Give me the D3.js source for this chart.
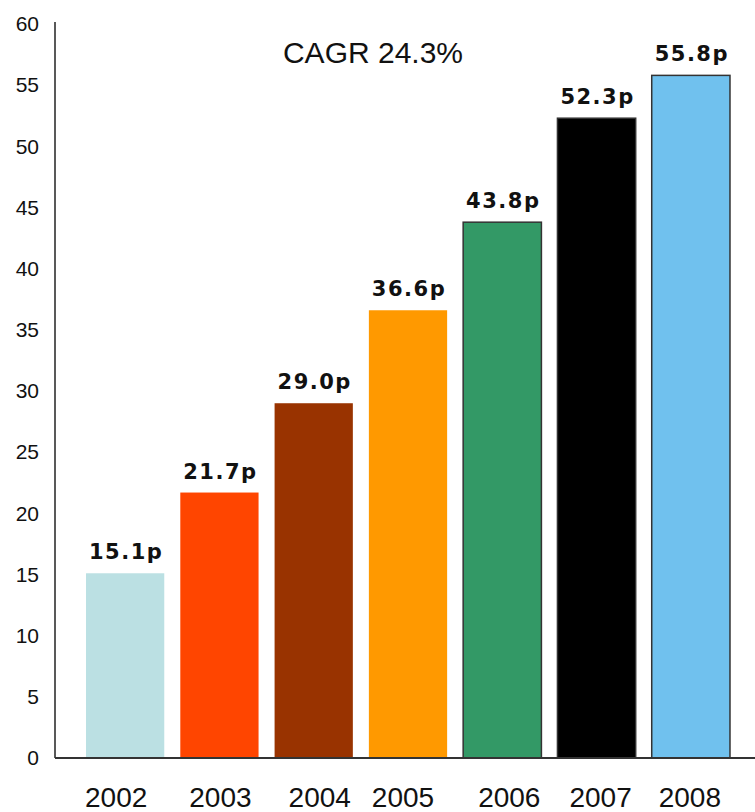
<!DOCTYPE html>
<html>
<head>
<meta charset="utf-8">
<script src="https://cdn.jsdelivr.net/npm/d3@7"></script>
<style>
  html, body { margin: 0; padding: 0; background: #fff; }
  svg { display: block; }
</style>
</head>
<body>
<svg id="chart" width="755" height="812"></svg>
<script>
// Annual values (pence) per year
const years = ["2002", "2003", "2004", "2005", "2006", "2007", "2008"];
const values = [15.1, 21.7, 29.0, 36.6, 43.8, 52.3, 55.8];
const valueLabels = ["15.1p", "21.7p", "29.0p", "36.6p", "43.8p", "52.3p", "55.8p"];
const barColors = ["#BBE0E3", "#FF4500", "#993300", "#FF9900", "#339966", "#000000", "#70C1EE"];
const outlined = [false, false, false, false, true, true, true];
const yTicks = [0, 5, 10, 15, 20, 25, 30, 35, 40, 45, 50, 55, 60];
const title = "CAGR 24.3%";

const svg = d3.select("#chart");

const x = d3.scaleBand()
  .domain(years)
  .range([78, 738])
  .paddingInner(0.17)
  .paddingOuter(0.085);

const y = d3.scaleLinear()
  .domain([0, 60])
  .range([758, 24]);

// Bars
svg.append("g")
  .selectAll("rect")
  .data(years)
  .join("rect")
  .attr("x", d => x(d))
  .attr("y", (d, i) => y(values[i]))
  .attr("width", x.bandwidth())
  .attr("height", (d, i) => y(0) - y(values[i]))
  .attr("fill", (d, i) => barColors[i])
  .attr("stroke", (d, i) => outlined[i] ? "#333" : "none")
  .attr("stroke-width", 1.5);

// Value labels above bars
svg.append("g")
  .selectAll("text")
  .data(years)
  .join("text")
  .attr("x", d => x(d) + x.bandwidth() / 2 + 1)
  .attr("y", (d, i) => y(values[i]) - 14)
  .attr("text-anchor", "middle")
  .style("font-family", "'DejaVu Sans', Verdana, sans-serif")
  .style("font-weight", "bold")
  .style("font-size", "21px")
  .style("letter-spacing", "1.5px")
  .attr("fill", "#111")
  .text((d, i) => valueLabels[i]);

// Y axis: line with labels only
const yAxis = d3.axisLeft(y).tickValues(yTicks).tickSize(0).tickPadding(16);
const gy = svg.append("g").attr("transform", "translate(55,0)").call(yAxis);
gy.select(".domain").attr("stroke", "#222").attr("stroke-width", 1.5).attr("d", "M0,22V758");
gy.selectAll("text")
  .style("font-family", "'Liberation Sans', Arial, sans-serif")
  .style("font-size", "21px")
  .attr("fill", "#111");

// X axis: baseline with year labels (labels sit slightly off-centre under the bars)
const yearLabelShift = [-9, 1, 6, -5, 7, 4, -1];
const xAxis = d3.axisBottom(x).tickSize(0).tickPadding(29);
const gx = svg.append("g").attr("transform", "translate(0,758)").call(xAxis);
gx.select(".domain").attr("stroke", "#333").attr("stroke-width", 2).attr("d", "M55,0H755");
gx.selectAll("text")
  .attr("dx", (d, i) => yearLabelShift[i])
  .style("font-family", "'Liberation Sans', Arial, sans-serif")
  .style("font-size", "28px")
  .attr("fill", "#111");

// Growth annotation
svg.append("text")
  .attr("x", 373)
  .attr("y", 63)
  .attr("text-anchor", "middle")
  .style("font-family", "'Liberation Sans', Arial, sans-serif")
  .style("font-size", "30px")
  .attr("fill", "#111")
  .text(title);
</script>
</body>
</html>
